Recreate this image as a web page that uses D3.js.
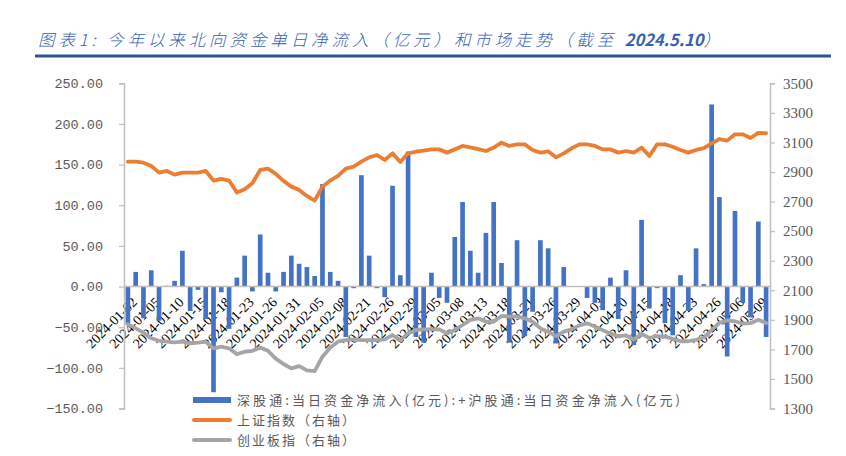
<!DOCTYPE html>
<html><head><meta charset="utf-8">
<script src="https://cdn.jsdelivr.net/npm/d3@7"></script>
<style>body{margin:0;background:#fff}svg{display:block}</style>
</head><body><svg id="c" width="846" height="456"></svg>
<script>
const dates = ["2024-01-02","2024-01-03","2024-01-04","2024-01-05","2024-01-08","2024-01-09","2024-01-10","2024-01-11","2024-01-12","2024-01-15","2024-01-16","2024-01-17","2024-01-18","2024-01-19","2024-01-22","2024-01-23","2024-01-24","2024-01-25","2024-01-26","2024-01-29","2024-01-30","2024-01-31","2024-02-01","2024-02-02","2024-02-05","2024-02-06","2024-02-07","2024-02-08","2024-02-19","2024-02-20","2024-02-21","2024-02-22","2024-02-23","2024-02-26","2024-02-27","2024-02-28","2024-02-29","2024-03-01","2024-03-04","2024-03-05","2024-03-06","2024-03-07","2024-03-08","2024-03-11","2024-03-12","2024-03-13","2024-03-14","2024-03-15","2024-03-18","2024-03-19","2024-03-20","2024-03-21","2024-03-22","2024-03-25","2024-03-26","2024-03-27","2024-03-28","2024-03-29","2024-04-01","2024-04-02","2024-04-03","2024-04-08","2024-04-09","2024-04-10","2024-04-11","2024-04-12","2024-04-15","2024-04-16","2024-04-17","2024-04-18","2024-04-19","2024-04-22","2024-04-23","2024-04-24","2024-04-25","2024-04-26","2024-04-29","2024-04-30","2024-05-06","2024-05-07","2024-05-08","2024-05-09","2024-05-10"];
const tickDates = ["2024-01-02","2024-01-05","2024-01-10","2024-01-15","2024-01-18","2024-01-23","2024-01-26","2024-01-31","2024-02-05","2024-02-08","2024-02-21","2024-02-26","2024-02-29","2024-03-05","2024-03-08","2024-03-13","2024-03-18","2024-03-21","2024-03-26","2024-03-29","2024-04-03","2024-04-10","2024-04-15","2024-04-18","2024-04-23","2024-04-26","2024-05-06","2024-05-09"];
const northboundFlow = [-47,18,-39,20,-42,1,7,44,-30,-4,-40,-130,-7,-52,11,38,-6,64,17,-6,18,38,28,24,13,126,18,7,-62,-2,137,38,-2,-13,124,14,166,-62,-69,17,-14,-20,61,104,44,17,66,104,29,-69,57,-61,-31,57,47,-70,24,0,0,-14,-20,-29,11,-40,20,-72,82,-27,-2,-45,-60,14,-30,47,3,224,110,-86,93,-20,-38,80,-62];
const sseIndex = [2970,2970,2963,2941,2896,2907,2882,2896,2896,2896,2907,2842,2853,2842,2761,2783,2824,2914,2923,2887,2840,2801,2779,2738,2707,2801,2842,2873,2923,2936,2970,2999,3015,2981,3026,2967,3026,3037,3044,3053,3053,3031,3053,3076,3067,3055,3042,3065,3098,3076,3087,3087,3049,3031,3040,2999,3026,3060,3087,3087,3076,3053,3053,3031,3042,3031,3065,3008,3087,3087,3071,3049,3031,3049,3062,3094,3123,3112,3155,3155,3130,3164,3162];
const chinextIndex = [1870,1842,1813,1775,1758,1752,1747,1752,1741,1745,1752,1707,1718,1707,1668,1684,1690,1713,1690,1637,1601,1571,1587,1558,1553,1650,1713,1752,1763,1768,1763,1763,1763,1768,1797,1763,1808,1831,1835,1835,1835,1808,1831,1865,1899,1910,1887,1887,1926,1921,1921,1910,1887,1842,1820,1790,1820,1835,1862,1876,1855,1830,1808,1788,1794,1766,1805,1777,1790,1786,1772,1755,1755,1765,1780,1831,1880,1896,1890,1874,1877,1901,1878];
const leftTicks = [-150,-100,-50,0,50,100,150,200,250];
const rightTicks = [1300,1500,1700,1900,2100,2300,2500,2700,2900,3100,3300,3500];
const seriesNames = ["深股通:当日资金净流入(亿元):+沪股通:当日资金净流入(亿元)","上证指数（右轴）","创业板指（右轴）"];
const seriesColors = ["#4472C4","#ED7D31","#A5A5A5"];

const svg = d3.select("#c");
const L = 124, R = 770, T = 83.3, B = 408.5;
const x = d3.scaleBand().domain(dates).range([L, R]).paddingInner(0.4).paddingOuter(0.2);
const yL = d3.scaleLinear().domain([-150, 250]).range([B, T]);
const yR = d3.scaleLinear().domain([1300, 3500]).range([B, T]);
const cx = d => x(d) + x.bandwidth() / 2;

// title
const title = svg.append("text").attr("x", 38).attr("y", 46)
  .attr("font-family", "'Noto Sans CJK SC', sans-serif").attr("font-size", 16.5)
  .attr("font-style", "italic").attr("font-weight", 300).attr("fill", "#3562AE");
title.append("tspan").attr("letter-spacing", 3.9).text("图表1:  今年以来北向资金单日净流入（亿元）和市场走势（截至 ");
title.append("tspan").attr("font-weight", "bold").text("2024.5.10");
title.append("tspan").text("）");
svg.append("line").attr("x1", 35).attr("x2", 831).attr("y1", 56).attr("y2", 56)
  .attr("stroke", "#2F5597").attr("stroke-width", 3);

// x labels
svg.append("g").selectAll("text").data(tickDates).join("text")
  .attr("transform", d => `translate(${cx(d) + 10},${303}) rotate(-45)`)
  .attr("text-anchor", "end")
  .attr("font-family", "'Liberation Serif', serif").attr("font-size", 14)
  .attr("fill", "#000").text(d => d);

// bars
svg.append("g").selectAll("rect").data(dates).join("rect")
  .attr("x", d => x(d)).attr("width", x.bandwidth())
  .attr("y", (d, i) => Math.min(yL(northboundFlow[i]), yL(0)))
  .attr("height", (d, i) => Math.abs(yL(northboundFlow[i]) - yL(0)))
  .attr("fill", seriesColors[0]);

// axes lines
const axisColor = "#BFBFBF";
svg.append("line").attr("x1", L).attr("x2", R).attr("y1", yL(0)).attr("y2", yL(0)).attr("stroke", axisColor).attr("stroke-width", 1.5);

const gl = svg.append("g").attr("transform", `translate(${L},0)`)
  .call(d3.axisLeft(yL).tickValues(leftTicks).tickSize(5).tickPadding(16).tickFormat(d3.format(".2f")));
gl.select(".domain").attr("stroke", axisColor).attr("stroke-width", 1.5);
gl.selectAll(".tick line").attr("stroke", axisColor).attr("stroke-width", 1.2);
gl.selectAll(".tick text").attr("font-family", "'Liberation Mono', monospace").attr("font-size", 13.5).attr("fill", "#595959");

const gr = svg.append("g").attr("transform", `translate(${R},0)`)
  .call(d3.axisRight(yR).tickValues(rightTicks).tickSize(5).tickPadding(8).tickFormat(d3.format("d")));
gr.select(".domain").attr("stroke", axisColor).attr("stroke-width", 1.5);
gr.selectAll(".tick line").attr("stroke", axisColor).attr("stroke-width", 1.2);
gr.selectAll(".tick text").attr("font-family", "'Liberation Serif', serif").attr("font-size", 15).attr("fill", "#595959");

// lines
const line = arr => d3.line().x((d, i) => cx(dates[i])).y(d => yR(d))(arr);
svg.append("path").attr("d", line(chinextIndex)).attr("fill", "none").attr("stroke", seriesColors[2]).attr("stroke-width", 3.8).attr("stroke-linejoin", "round").attr("stroke-linecap", "round");
svg.append("path").attr("d", line(sseIndex)).attr("fill", "none").attr("stroke", seriesColors[1]).attr("stroke-width", 3.8).attr("stroke-linejoin", "round").attr("stroke-linecap", "round");

// legend
const lg = svg.append("g");
lg.append("rect").attr("x", 193).attr("y", 397).attr("width", 38).attr("height", 6).attr("fill", seriesColors[0]);
lg.append("line").attr("x1", 194).attr("x2", 230).attr("y1", 420).attr("y2", 420).attr("stroke", seriesColors[1]).attr("stroke-width", 4).attr("stroke-linecap", "round");
lg.append("line").attr("x1", 194).attr("x2", 230).attr("y1", 440).attr("y2", 440).attr("stroke", seriesColors[2]).attr("stroke-width", 4).attr("stroke-linecap", "round");
const lgY = [400, 420, 440], lgW = [443, 118, 118];
seriesNames.forEach((n, i) => {
  lg.append("text").attr("x", 237).attr("y", lgY[i]).attr("dy", "0.36em")
    .attr("font-family", "'Noto Sans CJK SC', sans-serif").attr("font-size", 13)
    .attr("fill", "#595959").attr("textLength", lgW[i]).attr("lengthAdjust", "spacing").text(n);
});
</script></body></html>
